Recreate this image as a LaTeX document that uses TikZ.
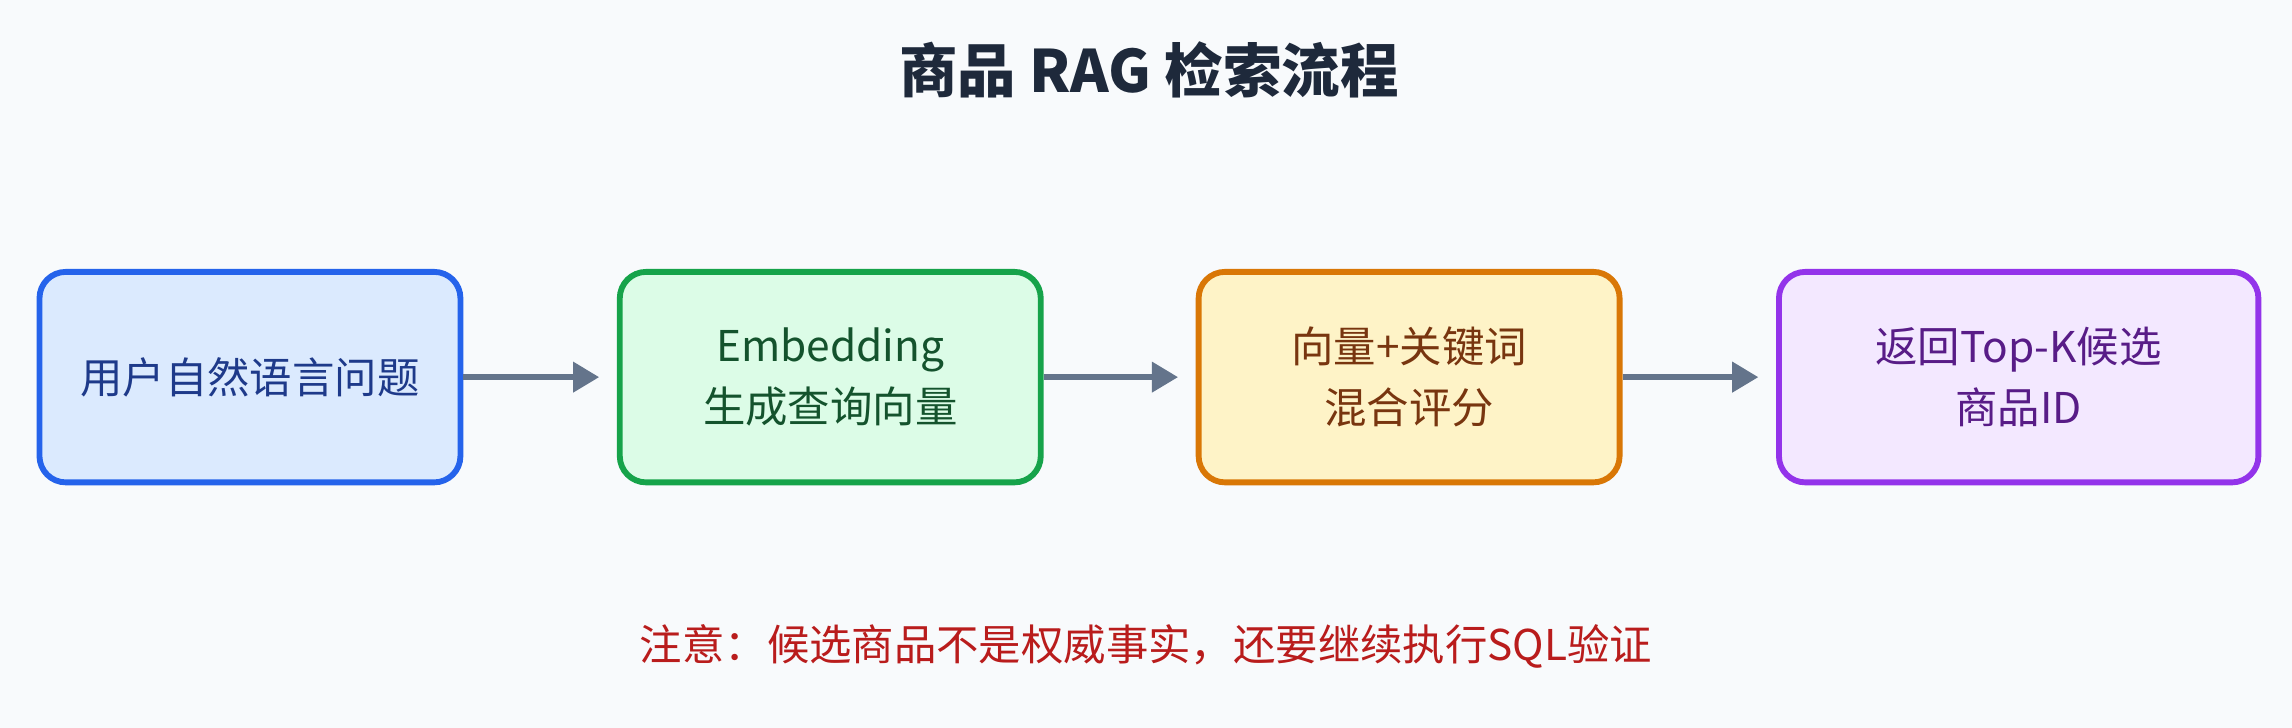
\documentclass[tikz,border=0pt]{standalone}
\usepackage{fontspec}
\setmainfont{Noto Sans CJK SC}
\usepackage{tikz}
\usetikzlibrary{positioning,arrows.meta}
\definecolor{bgc}{HTML}{F8FAFC}
\definecolor{titlec}{HTML}{1E293B}
\definecolor{arrowc}{HTML}{64748B}
\definecolor{notec}{HTML}{B91C1C}
\tikzset{
  stepbox/.style={draw, line width=2pt, rounded corners=9pt, minimum width=144pt, minimum height=72pt, align=center, font=\fontsize{14.5}{21}\selectfont},
  flow/.style={arrowc, line width=2.2pt, -{Triangle[length=9pt,width=10pt]}, shorten >=6pt}
}
\begin{document}
\begin{tikzpicture}[x=0.5pt, y=-0.5pt]
\fill[bgc] (0,0) rectangle (1568,498);
\node[font=\fontsize{20}{24}\selectfont\bfseries, text=titlec] (title) at (786,48) {商品 RAG 检索流程};

\node[stepbox, draw={rgb,255:red,37;green,99;blue,235}, fill={rgb,255:red,219;green,234;blue,254}, text={rgb,255:red,30;green,58;blue,138}] (query) at (171,258) {用户自然语言问题};
\node[stepbox, draw={rgb,255:red,22;green,163;blue,74}, fill={rgb,255:red,220;green,252;blue,231}, text={rgb,255:red,20;green,83;blue,45}] (embed) at (568,258) {Embedding\\生成查询向量};
\node[stepbox, draw={rgb,255:red,217;green,119;blue,6}, fill={rgb,255:red,254;green,243;blue,199}, text={rgb,255:red,120;green,53;blue,15}] (score) at (964,258) {向量+关键词\\混合评分};
\node[stepbox, minimum width=164pt, draw={rgb,255:red,147;green,51;blue,234}, fill={rgb,255:red,243;green,232;blue,255}, text={rgb,255:red,88;green,28;blue,135}] (topk) at (1381,258) {返回Top-K候选\\商品ID};

\draw[flow] (query) -- (embed);
\draw[flow] (embed) -- (score);
\draw[flow] (score) -- (topk);

\node[font=\fontsize{14.5}{18}\selectfont, text=notec] (note) at (784,442) {注意：候选商品不是权威事实，还要继续执行SQL验证};
\end{tikzpicture}
\end{document}
